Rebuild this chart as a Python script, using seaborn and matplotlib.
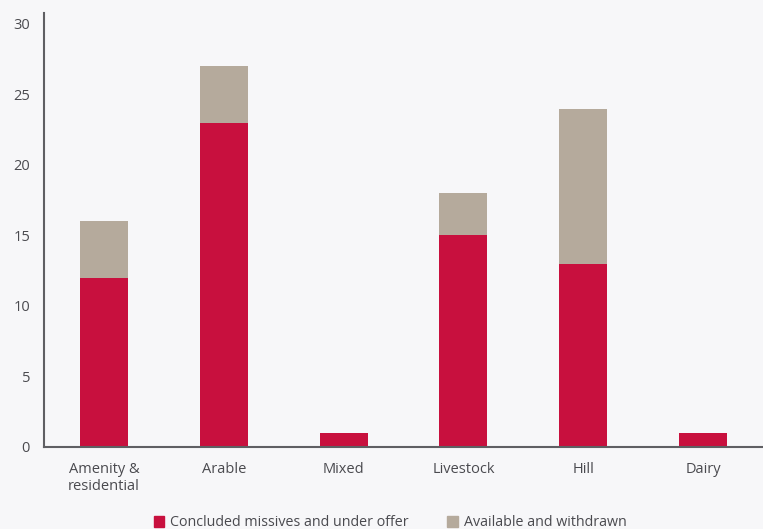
import matplotlib
matplotlib.use("Agg")
import matplotlib.pyplot as plt
import matplotlib.patches as mpatches
import seaborn as sns
import pandas as pd

categories = ["Amenity &\nresidential", "Arable", "Mixed", "Livestock", "Hill", "Dairy"]
concluded = [12, 23, 1, 15, 13, 1]
available = [4, 4, 0, 3, 11, 0]
yticks = [0, 5, 10, 15, 20, 25, 30]

series_names = ["Concluded missives and under offer", "Available and withdrawn"]
red = "#C8103E"
tan = "#B5AA9C"
bg = "#F7F7F9"
axis_col = "#5F5F63"
text_col = "#4A4A4F"

df = pd.DataFrame({
    "category": categories,
    "concluded": concluded,
    "total": [c + a for c, a in zip(concluded, available)],
})

sns.set_theme(style="white")
plt.rcParams["font.family"] = ["Open Sans", "DejaVu Sans"]

fig = plt.figure(figsize=(7.63, 5.29), dpi=100, facecolor=bg)
ax = fig.add_axes([44 / 763, 82 / 529, 1 - 44 / 763, (447 - 13) / 529])
ax.set_facecolor(bg)

# stacked bars: full total in tan, concluded portion in red on top
sns.barplot(data=df, x="category", y="total", color=tan, width=0.4,
            saturation=1, linewidth=0, ax=ax, zorder=2)
sns.barplot(data=df, x="category", y="concluded", color=red, width=0.4,
            saturation=1, linewidth=0, ax=ax, zorder=3)

ax.set_xlim(-0.5, len(categories) - 0.5)
ax.set_ylim(0, 30.78)
ax.set_yticks(yticks)
ax.set_xlabel("")
ax.set_ylabel("")
ax.tick_params(axis="both", length=0, labelsize=10.5, colors=text_col)
ax.tick_params(axis="y", pad=10)
ax.tick_params(axis="x", pad=11)
for lbl in ax.get_xticklabels():
    lbl.set_linespacing(1.2)

for side in ("top", "right"):
    ax.spines[side].set_visible(False)
for side in ("left", "bottom"):
    ax.spines[side].set_color(axis_col)
    ax.spines[side].set_linewidth(1.5)
    ax.spines[side].set_zorder(4)

handles = [mpatches.Patch(color=red, label=series_names[0]),
           mpatches.Patch(color=tan, label=series_names[1])]
fig.legend(handles=handles, loc="center", bbox_to_anchor=(390 / 763, 1 - 523 / 529),
           ncol=2, frameon=False, fontsize=10.3, labelcolor=text_col,
           handlelength=0.75, handleheight=0.75, handletextpad=0.4,
           columnspacing=2.7)

fig.savefig("out.png", dpi=100, facecolor=bg)
